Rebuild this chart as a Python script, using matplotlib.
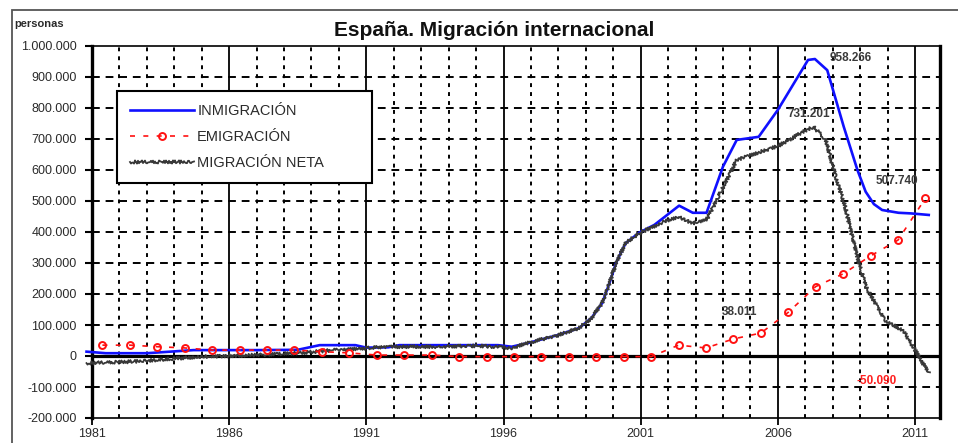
import matplotlib
matplotlib.use("Agg")
import matplotlib.pyplot as plt
from matplotlib.patches import Rectangle
from matplotlib.ticker import FixedLocator, FuncFormatter

plt.rcParams['font.family'] = ['Liberation Sans', 'DejaVu Sans']

# ---------------- data ----------------
title = "España. Migración internacional"
ylabel_txt = "personas"
series_names = ["INMIGRACIÓN", "EMIGRACIÓN", "MIGRACIÓN NETA"]

inm_x = [1980.8, 1981.5, 1983.0, 1984.7, 1987.0, 1988.5, 1989.3, 1990.6, 1991.0, 1991.8,
         1992.2, 1994.0, 1995.8, 1996.3, 1996.9, 1998.0, 1998.75, 1999.2, 1999.6, 1999.9,
         2000.1, 2000.45, 2000.95, 2001.5, 2002.4, 2002.9, 2003.4, 2004.0, 2004.5, 2005.3,
         2006.0, 2007.1, 2007.35, 2007.8, 2008.4, 2008.9, 2009.2, 2009.5, 2009.8, 2010.4,
         2010.85, 2011.5]
inm_y = [14000, 9000, 9000, 19000, 19000, 20000, 35000, 35000, 27000, 28000,
         35000, 35000, 35000, 30000, 42000, 68000, 90000, 122000, 171000, 245000,
         300000, 364000, 398000, 423000, 485000, 462000, 462000, 611000, 697000, 707000,
         794000, 955000, 958000, 922000, 740000, 600000, 530000, 490000, 471000, 462000,
         460000, 455000]

emi_years = list(range(1981, 2012))
emi_y = [35000, 35000, 30000, 26000, 19000, 19000, 19000, 19000, 14000, 10000,
         3000, 3000, 3000, -2000, -2000, -2000, -2000, -2000, -2000, -2000,
         -2000, 35000, 26000, 55000, 74000, 141000, 224000, 265000, 323000, 374000,
         509000]

net_x = [1980.8, 1982.5, 1985.0, 1987.0, 1988.6, 1989.8, 1991.8, 1993.4, 1995.1, 1996.3,
         1996.9, 1998.0, 1998.75, 1999.2, 1999.6, 1999.9, 2000.1, 2000.45, 2000.95, 2001.8,
         2002.35, 2002.9, 2003.4, 2003.95, 2004.5, 2005.0, 2006.0, 2007.1, 2007.3, 2007.75,
         2008.1, 2008.45, 2008.8, 2009.2, 2009.9, 2010.6, 2011.0, 2011.5]
net_y = [-23000, -18000, -2000, 3000, 10000, 19000, 30000, 30000, 33000, 26000,
         42000, 68000, 90000, 122000, 171000, 245000, 300000, 364000, 396000, 432000,
         449000, 428000, 439000, 535000, 632000, 648000, 677000, 732000, 739000, 697000,
         580000, 482000, 353000, 224000, 116000, 78000, 19000, -55000]

labels_txt = ["958.266", "731.201", "507.740", "38.011", "-50.090"]
labels_pos = [(2007.9, 962000), (2006.35, 780000), (2009.55, 565000), (2003.95, 142000), (2008.85, -82000)]
labels_col = ["#3a3a3a", "#3a3a3a", "#3a3a3a", "#3a3a3a", "#ff2020"]

xtick_years = [1981, 1986, 1991, 1996, 2001, 2006, 2011]
ytick_vals = list(range(-200000, 1000001, 100000))

# ---------------- figure ----------------
W, H = 958, 443
fig = plt.figure(figsize=(W / 100, H / 100), dpi=100)
ax = fig.add_axes([92 / W, 1 - 418 / H, (940 - 92) / W, (418 - 46) / H])

ax.set_xlim(1981, 2011.91)
ax.set_ylim(-200000, 1000000)

# grid: horizontal dashed
for v in ytick_vals:
    if v in (0, -200000, 1000000):
        continue
    ax.axhline(v, color='black', lw=1.4, dashes=(4.0, 3.0), zorder=1)
# vertical: solid every 5 years, dotted every year
for yr in range(1982, 2012):
    if (yr - 1981) % 5 == 0:
        ax.axvline(yr, color='black', lw=1.3, zorder=1)
    else:
        ax.axvline(yr, color='black', lw=1.4, dashes=(2.0, 2.6), zorder=1)
ax.axhline(0, color='black', lw=2.3, zorder=2)

# series
l_inm, = ax.plot(inm_x, inm_y, color='#1010ff', lw=1.9, zorder=3, clip_on=False,
                 label=series_names[0])
l_net, = ax.plot(net_x, net_y, color='#383838', lw=1.3, zorder=4, clip_on=False,
                 label=series_names[2])
l_net.set_sketch_params(scale=1.6, length=2.5, randomness=2.0)
emi_x = [y + 0.38 for y in emi_years]
l_emi, = ax.plot(emi_x, emi_y, color='#ff1010', lw=1.2, dashes=(3, 5), marker='o',
                 markersize=5, mfc='none', mec='#ff1010', mew=1.4, zorder=5,
                 label=series_names[1])

# spines
for s in ('left', 'right'):
    ax.spines[s].set_linewidth(2.4)
for s in ('top', 'bottom'):
    ax.spines[s].set_linewidth(1.2)

ax.yaxis.set_major_locator(FixedLocator(ytick_vals))
ax.yaxis.set_major_formatter(FuncFormatter(lambda v, p: f"{v:,.0f}".replace(',', '.')))
ax.xaxis.set_major_locator(FixedLocator(xtick_years))
ax.tick_params(axis='y', direction='out', length=5, width=1.5, labelsize=9,
               labelcolor='#2a2a2a', pad=6)
ax.tick_params(axis='x', direction='out', length=5, width=1.3, labelsize=9,
               labelcolor='#2a2a2a', pad=2)

# legend
leg = ax.legend(handles=[l_inm, l_emi, l_net], loc='upper left',
                bbox_to_anchor=((117 - 92) / 848, (418 - 95) / 372, (372 - 117) / 848, 0.01),
                mode='expand', borderaxespad=0, fancybox=False, framealpha=1,
                edgecolor='black', fontsize=10.5, handlelength=4.4, handletextpad=0.2,
                labelspacing=0.8, borderpad=0.9, numpoints=1)
leg.get_frame().set_linewidth(1.5)
for t in leg.get_texts():
    t.set_color('#2a2a2a')
leg.set_zorder(10)

# annotations
for txt, (x, y), c in zip(labels_txt, labels_pos, labels_col):
    ax.text(x, y, txt, fontsize=8.5, fontweight='bold', color=c, ha='left', va='center',
            zorder=11)

# title and unit
fig.text(494 / W, 1 - 31 / H, title, fontsize=15, fontweight='bold', color='#111111',
         ha='center', va='center')
fig.text(14 / W, 1 - 24 / H, ylabel_txt, fontsize=8, fontweight='bold', color='#2a2a2a',
         ha='left', va='center')

# outer frame
fig.patches.append(Rectangle((12 / W, -0.05), 1.05, 1 - 10 / H + 0.05,
                             transform=fig.transFigure, fill=False, lw=1.3,
                             edgecolor='#555555'))

fig.savefig("out.png", dpi=100)
